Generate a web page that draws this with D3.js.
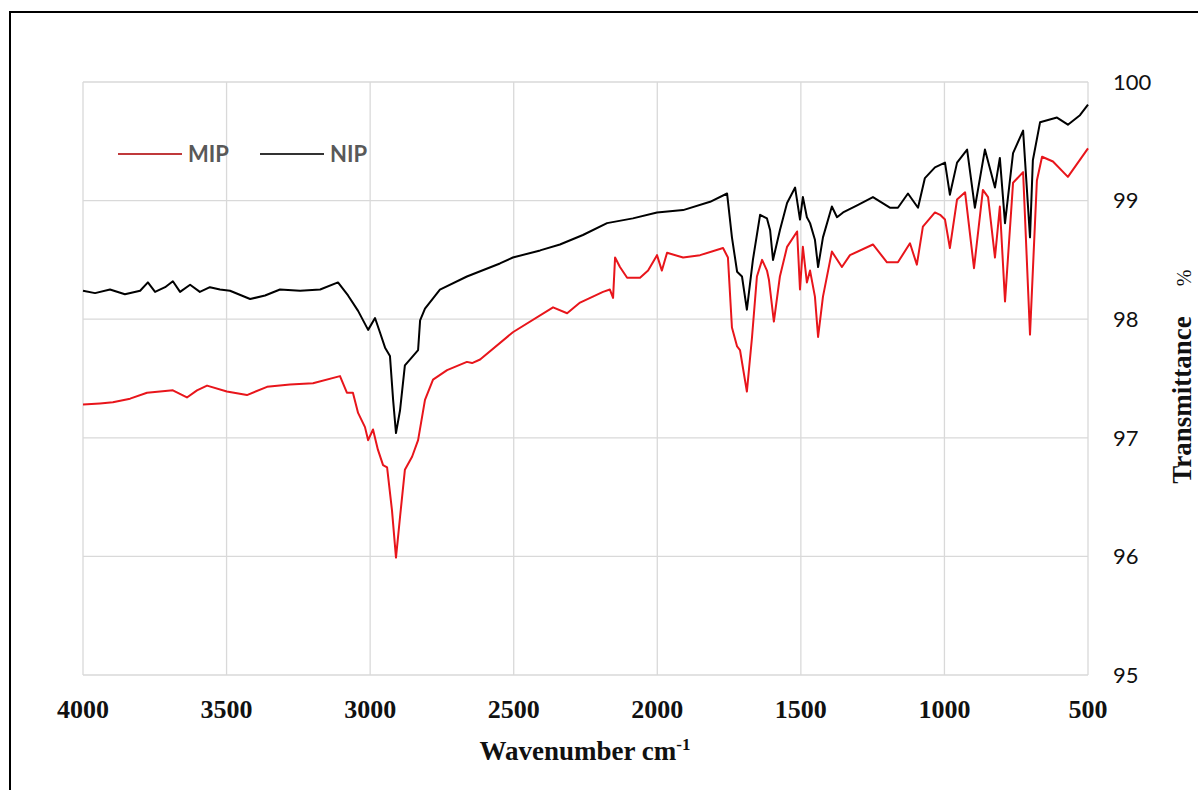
<!DOCTYPE html>
<html>
<head>
<meta charset="utf-8">
<script src="https://cdn.jsdelivr.net/npm/d3@7"></script>
<style>
  body { margin: 0; background: #fff; }
  svg { display: block; }
  .ytick { font-family: Lato, "Open Sans", sans-serif; font-size: 22px; fill: #111; }
  .xtick { font-family: "Liberation Serif", "Times New Roman", serif; font-weight: bold; font-size: 26px; fill: #111; }
  .axisTitle { font-family: "Liberation Serif", "Times New Roman", serif; font-weight: bold; font-size: 27px; fill: #111; }
  .legendText { font-family: Lato, "Open Sans", sans-serif; font-weight: bold; font-size: 22px; fill: #595959; }
</style>
</head>
<body>
<svg id="graphic-svg" width="1198" height="790"></svg>
<script>
var svg = d3.select("#graphic-svg");
var margin = { left: 83, right: 110, top: 82, bottom: 115 };
var w = 1198 - margin.left - margin.right;
var h = 790 - margin.top - margin.bottom;

// Data
var xTicks = [4000, 3500, 3000, 2500, 2000, 1500, 1000, 500];
var yTicks = [95, 96, 97, 98, 99, 100];

var nipWave = [4000,3958,3906,3854,3801,3774,3749,3714,3687,3662,3627,3593,3558,3523,3488,3418,3366,3314,3244,3174,3112,3077,3042,3007,2983,2966,2948,2931,2920,2910,2896,2879,2854,2833,2826,2809,2757,2663,2548,2503,2408,2339,2259,2175,2085,2001,1910,1816,1757,1740,1722,1705,1688,1667,1642,1618,1607,1597,1573,1548,1520,1503,1493,1479,1468,1451,1440,1423,1392,1374,1353,1304,1249,1190,1162,1127,1092,1068,1033,998,981,956,921,894,859,824,807,789,761,726,702,692,667,608,570,528,500];
var nipT = [98.24,98.22,98.25,98.21,98.24,98.31,98.23,98.27,98.32,98.23,98.29,98.23,98.27,98.25,98.24,98.17,98.20,98.25,98.24,98.25,98.31,98.20,98.07,97.91,98.01,97.89,97.76,97.69,97.32,97.04,97.23,97.61,97.68,97.74,97.99,98.09,98.25,98.36,98.47,98.52,98.58,98.63,98.71,98.81,98.85,98.90,98.92,98.99,99.06,98.69,98.40,98.36,98.08,98.50,98.88,98.85,98.75,98.50,98.75,98.98,99.11,98.84,99.03,98.86,98.81,98.67,98.44,98.69,98.95,98.86,98.90,98.96,99.03,98.94,98.94,99.06,98.94,99.19,99.28,99.32,99.05,99.32,99.43,98.94,99.43,99.11,99.36,98.81,99.40,99.59,98.69,99.34,99.66,99.70,99.64,99.72,99.81];

var mipWave = [4000,3941,3896,3836,3777,3732,3687,3638,3603,3568,3499,3429,3359,3279,3199,3105,3081,3060,3042,3018,3007,2990,2973,2955,2941,2924,2910,2896,2879,2854,2833,2809,2781,2732,2663,2645,2617,2503,2363,2314,2269,2189,2165,2154,2147,2130,2105,2060,2032,2001,1984,1966,1910,1851,1771,1754,1740,1722,1712,1688,1670,1653,1635,1618,1611,1594,1573,1548,1513,1503,1493,1479,1468,1451,1440,1423,1392,1357,1329,1249,1200,1162,1120,1096,1075,1033,1015,998,981,956,928,897,866,848,824,807,789,761,726,702,678,660,622,570,500];
var mipT = [97.28,97.29,97.30,97.33,97.38,97.39,97.40,97.34,97.40,97.44,97.39,97.36,97.43,97.45,97.46,97.52,97.38,97.38,97.21,97.09,96.98,97.07,96.90,96.77,96.75,96.39,95.99,96.33,96.73,96.84,96.98,97.32,97.49,97.57,97.64,97.63,97.66,97.89,98.10,98.05,98.14,98.23,98.25,98.18,98.52,98.44,98.35,98.35,98.41,98.54,98.41,98.56,98.52,98.54,98.60,98.52,97.93,97.77,97.74,97.39,97.85,98.36,98.50,98.41,98.33,97.98,98.36,98.61,98.74,98.25,98.61,98.31,98.41,98.19,97.85,98.19,98.57,98.44,98.54,98.63,98.48,98.48,98.64,98.46,98.78,98.90,98.88,98.84,98.60,99.01,99.07,98.43,99.09,99.03,98.52,98.95,98.15,99.15,99.24,97.87,99.17,99.37,99.33,99.20,99.44];

var nip = nipWave.map(function(d, i) { return { wave: d, t: nipT[i] }; });
var mip = mipWave.map(function(d, i) { return { wave: d, t: mipT[i] }; });

// Scales
var xScale = d3.scaleLinear().domain([4000, 500]).range([margin.left, margin.left + w]);
var yScale = d3.scaleLinear().domain([95, 100]).range([margin.top + h, margin.top]);

// Outer frame
svg.append("rect")
   .attr("x", 10).attr("y", 12)
   .attr("width", 1250).attr("height", 850)
   .style("fill", "none")
   .style("stroke", "#000")
   .style("stroke-width", 2);

// Gridlines
var grid = svg.append("g").attr("class", "grid");
grid.selectAll(".vgrid")
    .data(xTicks)
    .enter()
    .append("line")
    .attr("x1", function(d) { return xScale(d); })
    .attr("x2", function(d) { return xScale(d); })
    .attr("y1", yScale(100))
    .attr("y2", yScale(95))
    .style("stroke", "#d9d9d9")
    .style("stroke-width", 1.3);
grid.selectAll(".hgrid")
    .data(yTicks)
    .enter()
    .append("line")
    .attr("x1", xScale(4000))
    .attr("x2", xScale(500))
    .attr("y1", function(d) { return yScale(d); })
    .attr("y2", function(d) { return yScale(d); })
    .style("stroke", "#d9d9d9")
    .style("stroke-width", 1.3);

// Tick labels
svg.selectAll(".xtick")
   .data(xTicks)
   .enter()
   .append("text")
   .attr("class", "xtick")
   .attr("x", function(d) { return xScale(d); })
   .attr("y", 718)
   .style("text-anchor", "middle")
   .text(function(d) { return d; });
svg.selectAll(".ytick")
   .data(yTicks)
   .enter()
   .append("text")
   .attr("class", "ytick")
   .attr("x", 1113)
   .attr("y", function(d) { return yScale(d); })
   .attr("dy", "0.35em")
   .style("text-anchor", "start")
   .text(function(d) { return d; });

// Axis titles
var xTitle = svg.append("text")
   .attr("class", "axisTitle")
   .attr("x", 585)
   .attr("y", 760)
   .style("text-anchor", "middle");
xTitle.append("tspan").text("Wavenumber cm");
xTitle.append("tspan").attr("dy", -10).style("font-size", "17px").text("-1");

svg.append("text")
   .attr("class", "axisTitle")
   .attr("transform", "translate(1191,400) rotate(-90)")
   .style("text-anchor", "middle")
   .text("Transmittance");
svg.append("text")
   .attr("transform", "translate(1191,278) rotate(-90)")
   .style("text-anchor", "middle")
   .style("font-family", "'Liberation Serif', serif")
   .style("font-size", "20px")
   .style("fill", "#111")
   .text("%");

// Spectra
var line = d3.line()
             .x(function(d) { return xScale(d.wave); })
             .y(function(d) { return yScale(d.t); });
svg.append("path")
   .datum(nip)
   .attr("d", line)
   .style("fill", "none")
   .style("stroke", "#000")
   .style("stroke-width", 2)
   .style("stroke-linejoin", "round");
svg.append("path")
   .datum(mip)
   .attr("d", line)
   .style("fill", "none")
   .style("stroke", "#e8151b")
   .style("stroke-width", 2)
   .style("stroke-linejoin", "round");

// Legend
var legend = [{ name: "MIP", color: "#c0393b", x: 118 }, { name: "NIP", color: "#333", x: 260 }];
var lg = svg.selectAll(".legend")
            .data(legend)
            .enter()
            .append("g")
            .attr("class", "legend")
            .attr("transform", function(d) { return "translate(" + d.x + ",154)"; });
lg.append("line")
  .attr("x1", 0).attr("x2", 64)
  .style("stroke", function(d) { return d.color; })
  .style("stroke-width", 2);
lg.append("text")
  .attr("class", "legendText")
  .attr("x", 70)
  .attr("dy", "0.36em")
  .text(function(d) { return d.name; });
</script>
</body>
</html>
